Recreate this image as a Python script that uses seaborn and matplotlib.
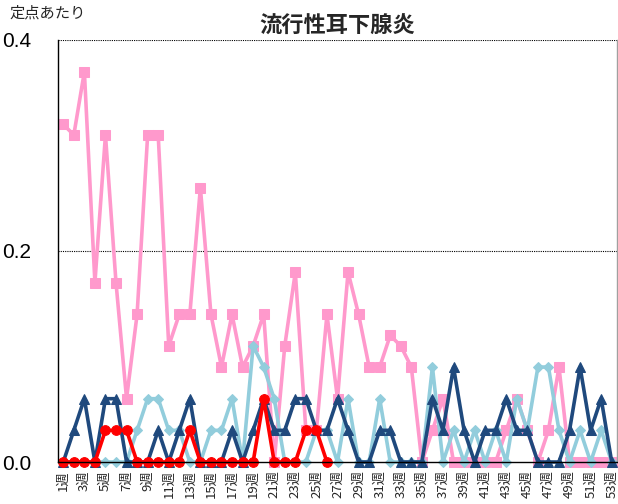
import numpy as np
import pandas as pd
import matplotlib
matplotlib.use("Agg")
import matplotlib.pyplot as plt
import seaborn as sns

# weekly values per sentinel site
weeks = [f"{i}週" for i in range(1, 54)]

pink = [0.32, 0.31, 0.37, 0.17, 0.31, 0.17, 0.06, 0.14, 0.31, 0.31,
        0.11, 0.14, 0.14, 0.26, 0.14, 0.09, 0.14, 0.09, 0.11, 0.14,
        0.00, 0.11, 0.18, 0.03, 0.03, 0.14, 0.06, 0.18, 0.14, 0.09,
        0.09, 0.12, 0.11, 0.09, 0.00, 0.03, 0.06, 0.00, 0.00, 0.00,
        0.00, 0.00, 0.03, 0.06, 0.03, 0.00, 0.03, 0.09, 0.00, 0.00,
        0.00, 0.00, 0.00]

light_blue = [0.00, 0.00, 0.00, 0.00, 0.00, 0.00, 0.00, 0.03, 0.06, 0.06,
              0.03, 0.03, 0.00, 0.00, 0.03, 0.03, 0.06, 0.00, 0.11, 0.09,
              0.06, 0.00, 0.00, 0.00, 0.03, 0.03, 0.00, 0.06, 0.00, 0.00,
              0.06, 0.00, 0.00, 0.00, 0.00, 0.09, 0.00, 0.03, 0.00, 0.03,
              0.00, 0.03, 0.00, 0.06, 0.03, 0.09, 0.09, 0.03, 0.00, 0.03,
              0.00, 0.03, 0.00]

dark_blue = [0.00, 0.03, 0.06, 0.00, 0.06, 0.06, 0.00, 0.00, 0.00, 0.03,
             0.00, 0.03, 0.06, 0.00, 0.00, 0.00, 0.03, 0.00, 0.03, 0.06,
             0.03, 0.03, 0.06, 0.06, 0.03, 0.03, 0.06, 0.03, 0.00, 0.00,
             0.03, 0.03, 0.00, 0.00, 0.00, 0.06, 0.03, 0.09, 0.03, 0.00,
             0.03, 0.03, 0.06, 0.03, 0.03, 0.00, 0.00, 0.00, 0.03, 0.09,
             0.03, 0.06, 0.00]

red = [0.00, 0.00, 0.00, 0.00, 0.03, 0.03, 0.03, 0.00, 0.00, 0.00,
       0.00, 0.00, 0.03, 0.00, 0.00, 0.00, 0.00, 0.00, 0.00, 0.06,
       0.00, 0.00, 0.00, 0.03, 0.03, 0.00]

sns.set_theme(style="white")
plt.rcParams['font.family'] = ['Noto Sans CJK JP', 'DejaVu Sans']

fig, ax = plt.subplots(figsize=(6.18, 5.04), dpi=100)
fig.subplots_adjust(left=58/618, right=617/618, top=1-40/504, bottom=1-462/504)

xpos = np.arange(len(weeks))

# series: values, colour, marker, marker size
series = [
    (pink, "#FF99CC", "s", 6.5),
    (light_blue, "#92CDDC", "D", 5.5),
    (dark_blue, "#1F497D", "^", 7.5),
    (red, "#FF0000", "o", 7),
]
for vals, col, mk, ms in series:
    sns.lineplot(x=xpos[:len(vals)], y=vals, color=col, marker=mk, markersize=ms,
                 markeredgecolor=col, linewidth=2.6, clip_on=False, ax=ax)

ax.set_xlim(-0.5, len(weeks) - 0.5)
ax.set_ylim(0, 0.4)

# y axis
ax.set_yticks([0.0, 0.2, 0.4])
ax.set_yticklabels(["0.0", "0.2", "0.4"], fontsize=15,
                   family=['Liberation Sans Narrow', 'Liberation Sans', 'DejaVu Sans'])
ax.tick_params(axis='y', direction='in', length=3, pad=19, colors='black')
for yv in [0.2, 0.4]:
    ax.axhline(yv, color='black', linestyle=(0, (1, 1)), linewidth=0.8, zorder=0)

# x axis: labels on odd weeks, tick marks between categories
ax.set_xticks(xpos[::2])
ax.set_xticklabels(weeks[::2], rotation=90, fontsize=9.5)
ax.tick_params(axis='x', length=0, pad=6)
ax.set_xticks(xpos[:-1] + 0.5, minor=True)
ax.tick_params(axis='x', which='minor', direction='out', length=3, color='black', width=0.8)

for side in ['left', 'bottom']:
    ax.spines[side].set_color('black')
    ax.spines[side].set_linewidth(1)
ax.spines['top'].set_visible(False)
ax.spines['right'].set_color('#A0A0A0')
ax.spines['right'].set_linewidth(1)

ax.set_title("流行性耳下腺炎", fontsize=16, fontweight='bold', pad=5)
fig.text(9/618, 1-13/504, "定点あたり", fontsize=11, va='center', ha='left')

fig.savefig("out.png", dpi=100)
